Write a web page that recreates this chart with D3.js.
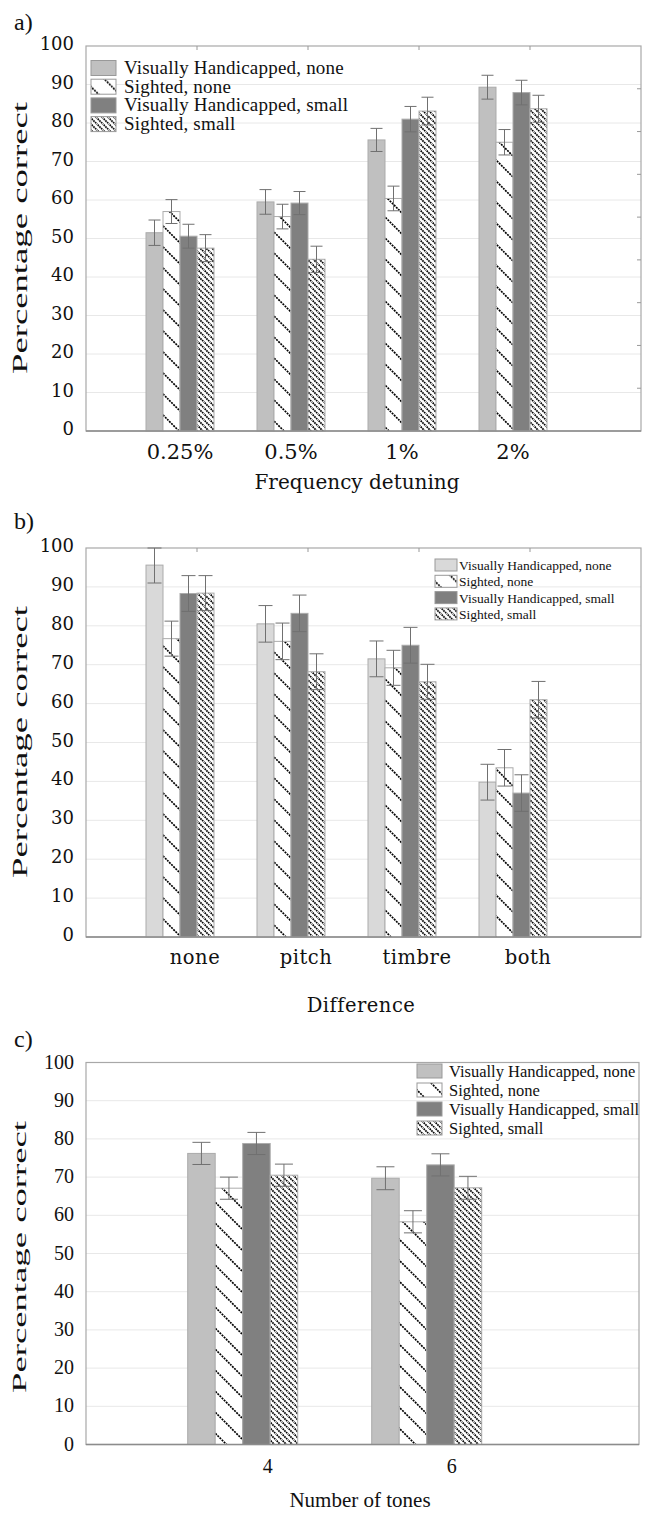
<!DOCTYPE html>
<html>
<head>
<meta charset="utf-8">
<script src="https://cdn.jsdelivr.net/npm/d3@7/dist/d3.min.js"></script>
<style>
  html, body { margin: 0; padding: 0; background: #fff; }
  svg { display: block; }
</style>
</head>
<body>
<svg id="chart" width="651" height="1513"></svg>
<script>
// ---------- DATA ----------
const seriesNames = ["Visually Handicapped, none", "Sighted, none", "Visually Handicapped, small", "Sighted, small"];
const yTicks = [0, 10, 20, 30, 40, 50, 60, 70, 80, 90, 100];

// Panel a
const catsA = ["0.25%", "0.5%", "1%", "2%"];
const aVhNone   = [51.5, 59.5, 75.6, 89.3];
const aSNone    = [57.0, 55.7, 60.4, 75.0];
const aVhSmall  = [50.6, 59.2, 81.0, 87.9];
const aSSmall   = [47.5, 44.6, 83.1, 83.7];
const aErrVhNone  = [3.3, 3.2, 3.0, 3.1];
const aErrSNone   = [3.1, 3.2, 3.2, 3.3];
const aErrVhSmall = [3.1, 3.0, 3.3, 3.2];
const aErrSSmall  = [3.5, 3.4, 3.6, 3.5];

// Panel b
const catsB = ["none", "pitch", "timbre", "both"];
const bVhNone   = [95.6, 80.5, 71.5, 39.8];
const bSNone    = [76.7, 76.0, 69.2, 43.5];
const bVhSmall  = [88.3, 83.2, 75.0, 37.0];
const bSSmall   = [88.4, 68.2, 65.6, 61.0];
const bErrVhNone  = [4.6, 4.7, 4.6, 4.6];
const bErrSNone   = [4.5, 4.7, 4.5, 4.7];
const bErrVhSmall = [4.6, 4.7, 4.6, 4.7];
const bErrSSmall  = [4.5, 4.6, 4.5, 4.7];

// Panel c
const catsC = ["4", "6"];
const cVhNone   = [76.2, 69.7];
const cSNone    = [67.1, 58.3];
const cVhSmall  = [78.8, 73.2];
const cSSmall   = [70.5, 67.2];
const cErrVhNone  = [2.9, 3.0];
const cErrSNone   = [2.9, 2.9];
const cErrVhSmall = [2.9, 2.9];
const cErrSSmall  = [2.9, 3.0];

// ---------- DRAWING ----------
const svg = d3.select("#chart");
const defs = svg.append("defs");

function hatch(id, step, sw, dash) {
  const p = defs.append("pattern").attr("id", id)
    .attr("patternUnits", "userSpaceOnUse")
    .attr("width", step).attr("height", step);
  p.append("rect").attr("width", step).attr("height", step).attr("fill", "#fff");
  const segs = [[-1, -1, step + 1, step + 1], [step - 1, -1, step + 1, 1], [-1, step - 1, 1, step + 1]];
  segs.forEach(s => p.append("line")
    .attr("x1", s[0]).attr("y1", s[1]).attr("x2", s[2]).attr("y2", s[3])
    .attr("stroke", "#000").attr("stroke-width", sw).attr("stroke-dasharray", dash));
}
hatch("sparse", 21, 1.7, "2 1");
hatch("dense", 6, 1.7, "1.6 0.8");

const SERIF_W = "'DejaVu Serif', serif";
const SERIF_T = "'Liberation Serif', 'Times New Roman', serif";

function panel(cfg) {
  const g = svg.append("g");
  const y = d3.scaleLinear().domain([0, 100]).range([cfg.bottom, cfg.top]);
  const x0 = d3.scaleBand().domain(cfg.cats).range(cfg.bandRange).paddingInner(0).paddingOuter(0);
  const gw = cfg.groupWidth;
  const x1 = d3.scaleBand().domain(cfg.series).range([0, gw]);

  g.append("g").selectAll("line").data(yTicks.filter(t => t > 0 && t < 100)).join("line")
    .attr("x1", cfg.left).attr("x2", cfg.right)
    .attr("y1", d => y(d)).attr("y2", d => y(d))
    .attr("stroke", "#e8e8e8").attr("stroke-width", 1);

  g.append("rect").attr("x", cfg.left).attr("y", cfg.top)
    .attr("width", cfg.right - cfg.left).attr("height", cfg.bottom - cfg.top)
    .attr("fill", "none").attr("stroke", "#a8a8a8").attr("stroke-width", 1.2);

  if (cfg.topTicks) {
    g.append("g").selectAll("line").data(cfg.cats).join("line")
      .attr("x1", d => x0(d) + x0.bandwidth() / 2 + gw / 4)
      .attr("x2", d => x0(d) + x0.bandwidth() / 2 + gw / 4)
      .attr("y1", cfg.top).attr("y2", cfg.top + 4)
      .attr("stroke", "#999");
  }
  if (cfg.rightTicks) {
    const r = d3.scaleLinear().domain([0, cfg.rightTicks]).range([cfg.bottom, cfg.top]);
    g.append("g").selectAll("line").data(d3.range(1, cfg.rightTicks)).join("line")
      .attr("x1", cfg.right - 4).attr("x2", cfg.right)
      .attr("y1", d => r(d)).attr("y2", d => r(d))
      .attr("stroke", "#999");
  }

  const fills = cfg.fills;
  const rows = [];
  cfg.values.forEach((vals, si) => vals.forEach((v, ci) => rows.push({
    s: cfg.series[si], si, c: cfg.cats[ci], v, e: cfg.errors[si][ci]
  })));
  const bx = d => x0(d.c) + (x0.bandwidth() - gw) / 2 + x1(d.s);
  g.append("g").selectAll("rect").data(rows).join("rect")
    .attr("x", bx).attr("width", x1.bandwidth())
    .attr("y", d => y(d.v)).attr("height", d => y(0) - y(d.v))
    .attr("fill", d => fills[d.si])
    .attr("stroke", "#ababab").attr("stroke-width", 1);

  g.append("line").attr("x1", cfg.left).attr("x2", cfg.right)
    .attr("y1", y(0)).attr("y2", y(0)).attr("stroke", "#8c8c8c").attr("stroke-width", 1.3);

  const eg = g.append("g").attr("stroke", "#707070").attr("stroke-width", 1);
  const cx = d => bx(d) + x1.bandwidth() / 2;
  eg.selectAll(".v").data(rows).join("line")
    .attr("x1", cx).attr("x2", cx)
    .attr("y1", d => y(Math.min(100, d.v + d.e))).attr("y2", d => y(d.v - d.e));
  eg.selectAll(".t").data(rows).join("line")
    .attr("x1", d => cx(d) - cfg.cap / 2).attr("x2", d => cx(d) + cfg.cap / 2)
    .attr("y1", d => y(Math.min(100, d.v + d.e))).attr("y2", d => y(Math.min(100, d.v + d.e)));
  eg.selectAll(".b").data(rows).join("line")
    .attr("x1", d => cx(d) - cfg.cap / 2).attr("x2", d => cx(d) + cfg.cap / 2)
    .attr("y1", d => y(d.v - d.e)).attr("y2", d => y(d.v - d.e));

  g.append("g").selectAll("text").data(yTicks).join("text")
    .attr("x", cfg.left - 12).attr("y", d => y(d) + cfg.tickDy)
    .attr("text-anchor", "end")
    .attr("font-family", cfg.tickFont).attr("font-size", cfg.tickSize)
    .attr("fill", "#111")
    .text(d => d);

  g.append("g").selectAll("text").data(cfg.cats).join("text")
    .attr("x", d => x0(d) + x0.bandwidth() / 2 + cfg.catOffset)
    .attr("y", cfg.catY)
    .attr("text-anchor", "middle")
    .attr("font-family", cfg.catFont).attr("font-size", cfg.catSize)
    .attr("letter-spacing", cfg.catLS || 0)
    .attr("fill", "#111")
    .text(d => d);

  g.append("text").attr("x", cfg.xTitleX).attr("y", cfg.xTitleY)
    .attr("text-anchor", "middle")
    .attr("font-family", cfg.xTitleFont).attr("font-size", cfg.xTitleSize)
    .attr("letter-spacing", cfg.xTitleLS || 0)
    .attr("fill", "#111").text(cfg.xTitle);

  const yt = g.append("text")
    .attr("transform", `translate(${cfg.yTitleX},${cfg.yTitleY}) rotate(-90)`)
    .attr("text-anchor", "middle")
    .attr("font-family", cfg.yTitleFont).attr("font-size", cfg.yTitleSize)
    .attr("fill", "#111").text("Percentage correct");
  if (cfg.yTitleLen) yt.attr("textLength", cfg.yTitleLen).attr("lengthAdjust", "spacingAndGlyphs");

  g.append("text").attr("x", cfg.letterX).attr("y", cfg.letterY)
    .attr("font-family", cfg.letterFont).attr("font-size", cfg.letterSize)
    .attr("fill", "#111").text(cfg.letter);

  const L = cfg.legend;
  const lg = g.append("g").selectAll("g").data(cfg.series).join("g")
    .attr("transform", (d, i) => `translate(${L.x},${L.y + i * L.dy})`);
  lg.append("rect").attr("x", 0).attr("y", -L.h / 2).attr("width", L.w).attr("height", L.h)
    .attr("fill", (d, i) => fills[i]).attr("stroke", "#999").attr("stroke-width", 1);
  lg.append("text").attr("x", L.w + L.gap).attr("y", L.textDy)
    .attr("font-family", L.font).attr("font-size", L.size)
    .attr("letter-spacing", L.ls || 0)
    .attr("fill", "#111").text(d => d);
}

panel({
  letter: "a)", letterX: 14, letterY: 30, letterFont: SERIF_T, letterSize: 24,
  cats: catsA, series: seriesNames,
  values: [aVhNone, aSNone, aVhSmall, aSSmall],
  errors: [aErrVhNone, aErrSNone, aErrVhSmall, aErrSSmall],
  fills: ["#c0c0c0", "url(#sparse)", "#808080", "url(#dense)"],
  left: 86, right: 641, top: 46, bottom: 431,
  bandRange: [124.5, 568.5], groupWidth: 68, cap: 12,
  topTicks: true, rightTicks: 9,
  tickFont: SERIF_W, tickSize: 18, tickDy: 4,
  catFont: SERIF_W, catSize: 21, catY: 459, catOffset: 0,
  xTitle: "Frequency detuning", xTitleX: 357, xTitleY: 489, xTitleFont: SERIF_W, xTitleSize: 20,
  yTitleX: 27, yTitleY: 238, yTitleFont: SERIF_T, yTitleSize: 20, yTitleLen: 272,
  legend: { x: 91, y: 68, dy: 18.7, w: 25, h: 15, gap: 8, textDy: 6, font: SERIF_T, size: 19, ls: 0.2 }
});

panel({
  letter: "b)", letterX: 14, letterY: 529, letterFont: SERIF_T, letterSize: 24,
  cats: catsB, series: seriesNames,
  values: [bVhNone, bSNone, bVhSmall, bSSmall],
  errors: [bErrVhNone, bErrSNone, bErrVhSmall, bErrSSmall],
  fills: ["#d9d9d9", "url(#sparse)", "#7f7f7f", "url(#dense)"],
  left: 86, right: 641, top: 548, bottom: 937,
  bandRange: [124.5, 568.5], groupWidth: 68, cap: 14,
  topTicks: true, rightTicks: 0,
  tickFont: SERIF_W, tickSize: 18, tickDy: 4,
  catFont: SERIF_W, catSize: 19.5, catY: 964, catOffset: 15, catLS: 0.5,
  xTitle: "Difference", xTitleX: 361, xTitleY: 1012, xTitleFont: SERIF_W, xTitleSize: 19.5, xTitleLS: 0.5,
  yTitleX: 27, yTitleY: 742, yTitleFont: SERIF_T, yTitleSize: 20, yTitleLen: 272,
  legend: { x: 435, y: 565, dy: 16.3, w: 22, h: 12, gap: 2, textDy: 5, font: SERIF_T, size: 13.5, ls: 0 }
});

panel({
  letter: "c)", letterX: 14, letterY: 1047, letterFont: SERIF_T, letterSize: 24,
  cats: catsC, series: seriesNames,
  values: [cVhNone, cSNone, cVhSmall, cSSmall],
  errors: [cErrVhNone, cErrSNone, cErrVhSmall, cErrSSmall],
  fills: ["#c0c0c0", "url(#sparse)", "#808080", "url(#dense)"],
  left: 86, right: 639, top: 1062.5, bottom: 1444.5,
  bandRange: [150.7, 518.7], groupWidth: 110, cap: 18,
  topTicks: false, rightTicks: 0,
  tickFont: SERIF_T, tickSize: 20, tickDy: 6,
  catFont: SERIF_T, catSize: 20, catY: 1473, catOffset: 25,
  xTitle: "Number of tones", xTitleX: 360, xTitleY: 1507, xTitleFont: SERIF_T, xTitleSize: 21,
  yTitleX: 26, yTitleY: 1257, yTitleFont: SERIF_T, yTitleSize: 19, yTitleLen: 272,
  legend: { x: 417, y: 1071, dy: 19, w: 25, h: 14, gap: 7, textDy: 6, font: SERIF_T, size: 16.5, ls: 0 }
});
</script>
</body>
</html>
